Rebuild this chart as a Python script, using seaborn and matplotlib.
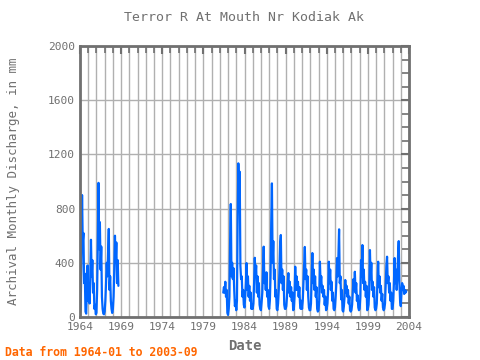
import numpy as np
import pandas as pd
import matplotlib
matplotlib.use("Agg")
import matplotlib.pyplot as plt
from matplotlib.ticker import MultipleLocator
import seaborn as sns

# monthly discharge (mm), first record 1964-01 .. 1968-09
seg1_start = "1964-01"
seg1_values = [
    30, 80, 400, 900, 550, 620, 250, 320, 40, 25, 200, 380,      # 1964
    120, 250, 100, 300, 570, 300, 420, 180, 250, 60, 90, 20,     # 1965
    30, 200, 550, 990, 500, 700, 350, 520, 150, 60, 25, 20,      # 1966
    40, 120, 250, 400, 300, 480, 650, 200, 300, 120, 60, 30,     # 1967
    60, 150, 350, 600, 400, 550, 250, 420, 230,                  # 1968
]

# second record 1981-06 .. 2003-09
seg2_start = "1981-06"
seg2_values = [
    180, 220, 180, 260, 150, 200, 30,                                # 1981
    15, 60, 150, 560, 834, 300, 400, 280, 360, 200, 80, 120,         # 1982
    50, 120, 700, 1134, 900, 1072, 380, 280, 300, 150, 200, 90,      # 1983
    70, 150, 250, 398, 200, 300, 150, 230, 120, 180, 60, 90,         # 1984
    60, 100, 250, 437, 300, 380, 180, 300, 150, 250, 90, 60,         # 1985
    50, 110, 180, 350, 519, 250, 320, 200, 330, 150, 200, 80,        # 1986
    60, 120, 300, 700, 986, 400, 560, 280, 350, 150, 200, 60,        # 1987
    50, 100, 200, 350, 540, 605, 250, 350, 200, 300, 90, 60,         # 1988
    60, 80, 150, 250, 324, 180, 260, 150, 220, 120, 180, 50,         # 1989
    60, 150, 371, 200, 300, 200, 260, 150, 220, 100, 60, 120,        # 1990
    60, 120, 250, 400, 517, 280, 350, 200, 300, 150, 70, 50,         # 1991
    50, 100, 300, 472, 250, 350, 200, 300, 150, 220, 60, 40,         # 1992
    50, 120, 408, 250, 300, 180, 230, 150, 200, 90, 150, 50,         # 1993
    60, 100, 200, 408, 250, 350, 200, 260, 120, 180, 60, 50,         # 1994
    70, 150, 250, 435, 300, 450, 647, 250, 300, 130, 200, 50,        # 1995
    40, 80, 150, 273, 180, 230, 150, 200, 100, 150, 50, 40,          # 1996
    50, 90, 180, 280, 200, 334, 180, 250, 120, 160, 70, 50,          # 1997
    60, 150, 420, 300, 531, 250, 350, 200, 260, 150, 230, 50,        # 1998
    60, 90, 200, 494, 280, 400, 200, 260, 150, 220, 70, 50,          # 1999
    60, 100, 250, 408, 220, 300, 180, 230, 120, 170, 70, 50,         # 2000
    60, 100, 250, 380, 445, 250, 300, 180, 250, 120, 180, 60,        # 2001
    60, 120, 250, 435, 250, 350, 200, 300, 450, 560, 250, 120,       # 2002
    80, 180, 250, 200, 230, 170, 200, 180, 190,                      # 2003
]

year_ticks = list(range(1964, 2005, 5))
y_ticks = [0, 400, 800, 1200, 1600, 2000]


def to_frame(start, values, seg):
    dates = pd.date_range(start=start, periods=len(values), freq="MS")
    return pd.DataFrame({
        "year": dates.year + (dates.month - 1) / 12.0,
        "value": values,
        "seg": seg,
    })


df = pd.concat([to_frame(seg1_start, seg1_values, 1),
                to_frame(seg2_start, seg2_values, 2)], ignore_index=True)

sns.set_theme(style="white")
plt.rcParams["font.family"] = ["DejaVu Sans Mono", "DejaVu Sans"]

fig = plt.figure(figsize=(4.8, 3.6), dpi=100)
ax = fig.add_axes([80 / 480, 43 / 360, 329 / 480, 271 / 360])

grey = "#707070"
sns.lineplot(data=df, x="year", y="value", units="seg", estimator=None,
             color="#0066ff", linewidth=1.6, ax=ax)

ax.set_xlim(1964, 2004)
ax.set_ylim(0, 2000)
ax.set_xticks(year_ticks)
ax.set_yticks(y_ticks)
ax.xaxis.set_minor_locator(MultipleLocator(1))
ax.yaxis.set_minor_locator(MultipleLocator(100))
ax.grid(True, which="minor", axis="x", color="#b0b0b0", linewidth=1)
ax.grid(True, which="major", axis="both", color="#b0b0b0", linewidth=1)
ax.set_axisbelow(True)

ax.tick_params(axis="both", which="both", direction="in", top=True,
               right=True, colors=grey, labelcolor=grey, labelsize=8)
ax.tick_params(axis="both", which="major", length=6, width=1.5)
ax.tick_params(axis="both", which="minor", length=5, width=1.2)
for s in ax.spines.values():
    s.set_color(grey)
    s.set_linewidth(2)

ax.set_xlabel("Date", color=grey, fontsize=10, fontweight="bold", labelpad=5)
ax.set_ylabel("Archival Monthly Discharge, in mm", color=grey, fontsize=9,
              labelpad=20)
ax.set_title("Terror R At Mouth Nr Kodiak Ak", color=grey, fontsize=9.5,
             pad=18)
fig.text(0.01, 0.01, "Data from 1964-01 to 2003-09", color="#ff6600",
         fontsize=8.3, fontweight="bold")

plt.savefig("out.png", dpi=100)
